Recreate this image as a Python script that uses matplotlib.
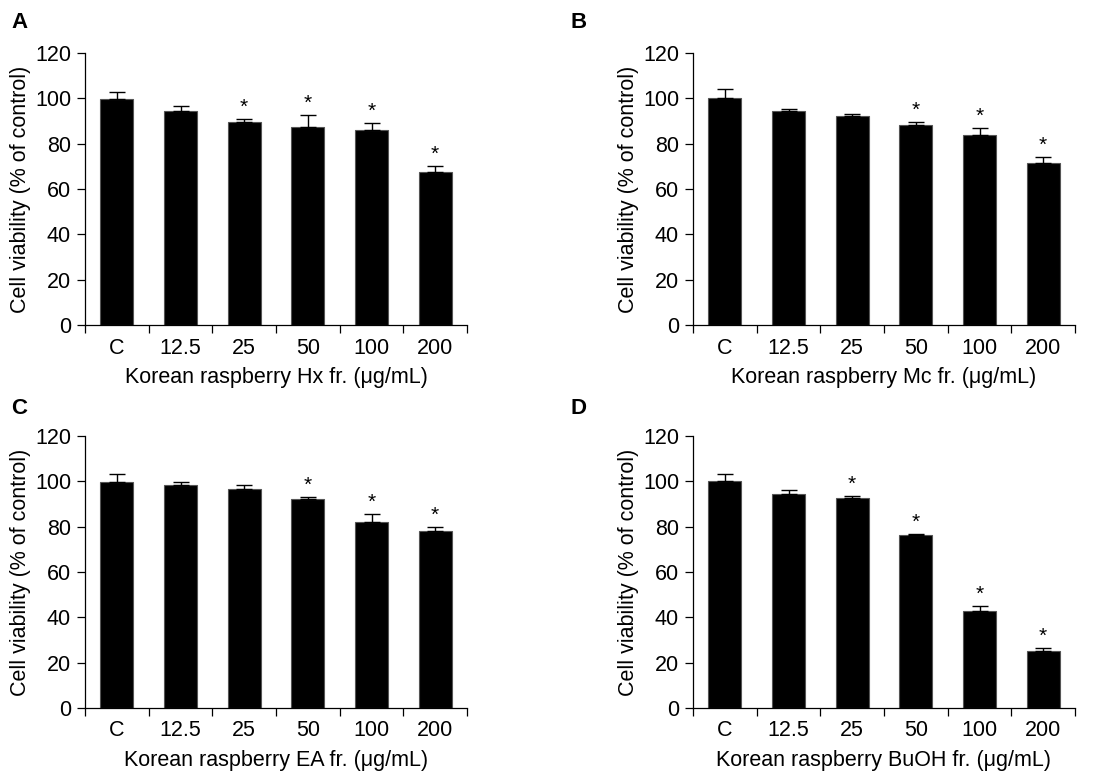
import numpy as np
import matplotlib
matplotlib.use('Agg')
import matplotlib.pyplot as plt

plt.rcParams['font.family'] = ['Liberation Sans', 'DejaVu Sans']

# ── DỮ LIỆU ─────────────────────────────────────────────────────────────
categories = ['C', '12.5', '25', '50', '100', '200']
letters    = ['A', 'B', 'C', 'D']
xlabels    = ['Korean raspberry Hx fr. (\u03bcg/mL)',
              'Korean raspberry Mc fr. (\u03bcg/mL)',
              'Korean raspberry EA fr. (\u03bcg/mL)',
              'Korean raspberry BuOH fr. (\u03bcg/mL)']

hx_mean   = [99.9, 94.3, 89.5, 87.4, 85.9, 67.3]
hx_err    = [2.8, 2.3, 1.4, 5.4, 3.0, 2.9]
hx_star   = [False, False, True, True, True, True]

mc_mean   = [100.3, 94.2, 92.2, 88.4, 83.9, 71.4]
mc_err    = [3.8, 1.2, 0.9, 1.2, 2.8, 2.8]
mc_star   = [False, False, False, True, True, True]

ea_mean   = [99.8, 98.5, 96.6, 92.0, 82.0, 78.0]
ea_err    = [3.4, 1.0, 1.9, 0.9, 3.6, 2.0]
ea_star   = [False, False, False, True, True, True]

buoh_mean = [100.1, 94.4, 92.5, 76.3, 42.9, 25.0]
buoh_err  = [3.1, 1.9, 0.9, 0.3, 2.0, 1.3]
buoh_star = [False, False, True, True, True, True]

means = [hx_mean, mc_mean, ea_mean, buoh_mean]
errs  = [hx_err, mc_err, ea_err, buoh_err]
stars = [hx_star, mc_star, ea_star, buoh_star]

# ── BIỂU ĐỒ ─────────────────────────────────────────────────────────────
fig = plt.figure(figsize=(10.96, 7.73), dpi=100)
W, H = 1096, 773
# (left px, top px) of each axes box
boxes = [(85, 53), (693, 53), (85, 436), (693, 436)]
aw, ah = 382, 272
letter_pos = [(11, 22), (570, 22), (11, 408), (570, 408)]
fs = 15.5

x = np.arange(len(categories))
for i in range(4):
    lx, ty = boxes[i]
    ax = fig.add_axes([lx / W, 1 - (ty + ah) / H, aw / W, ah / H])
    m = np.array(means[i]); e = np.array(errs[i])
    ax.bar(x, m, width=0.52, color='black', edgecolor='#555555', linewidth=0.8, zorder=2)
    ax.errorbar(x, m, yerr=[np.zeros_like(e), e], fmt='none', ecolor='black',
                elinewidth=1.0, capsize=5.5, capthick=1.0, zorder=3)
    for xi, mi, ei, s in zip(x, m, e, stars[i]):
        if s:
            ax.text(xi, mi + ei + 1.0, '*', ha='center', va='bottom', fontsize=15)

    ax.set_xlim(-0.5, 5.5)
    ax.set_ylim(0, 120)
    ax.set_yticks(np.arange(0, 121, 20))
    ax.set_xticks(np.arange(-0.5, 6, 1))
    ax.set_xticklabels([])
    ax.set_xticks(x, minor=True)
    ax.set_xticklabels(categories, minor=True)
    ax.tick_params(axis='x', which='minor', length=0, pad=9, labelsize=fs)
    ax.tick_params(axis='x', which='major', length=6, width=0.9, direction='out')
    ax.tick_params(axis='y', length=6, width=0.9, direction='out', labelsize=fs, pad=4)
    for sp in ['top', 'right']:
        ax.spines[sp].set_visible(False)
    for sp in ['left', 'bottom']:
        ax.spines[sp].set_linewidth(0.9)
    ax.set_ylabel('Cell viability (% of control)', fontsize=fs, labelpad=3)
    ax.set_xlabel(xlabels[i], fontsize=fs, labelpad=6)
    fig.text(letter_pos[i][0] / W, 1 - letter_pos[i][1] / H, letters[i],
             fontsize=16, fontweight='bold', va='center', ha='left')

plt.savefig('out.png', dpi=100)
plt.close()
